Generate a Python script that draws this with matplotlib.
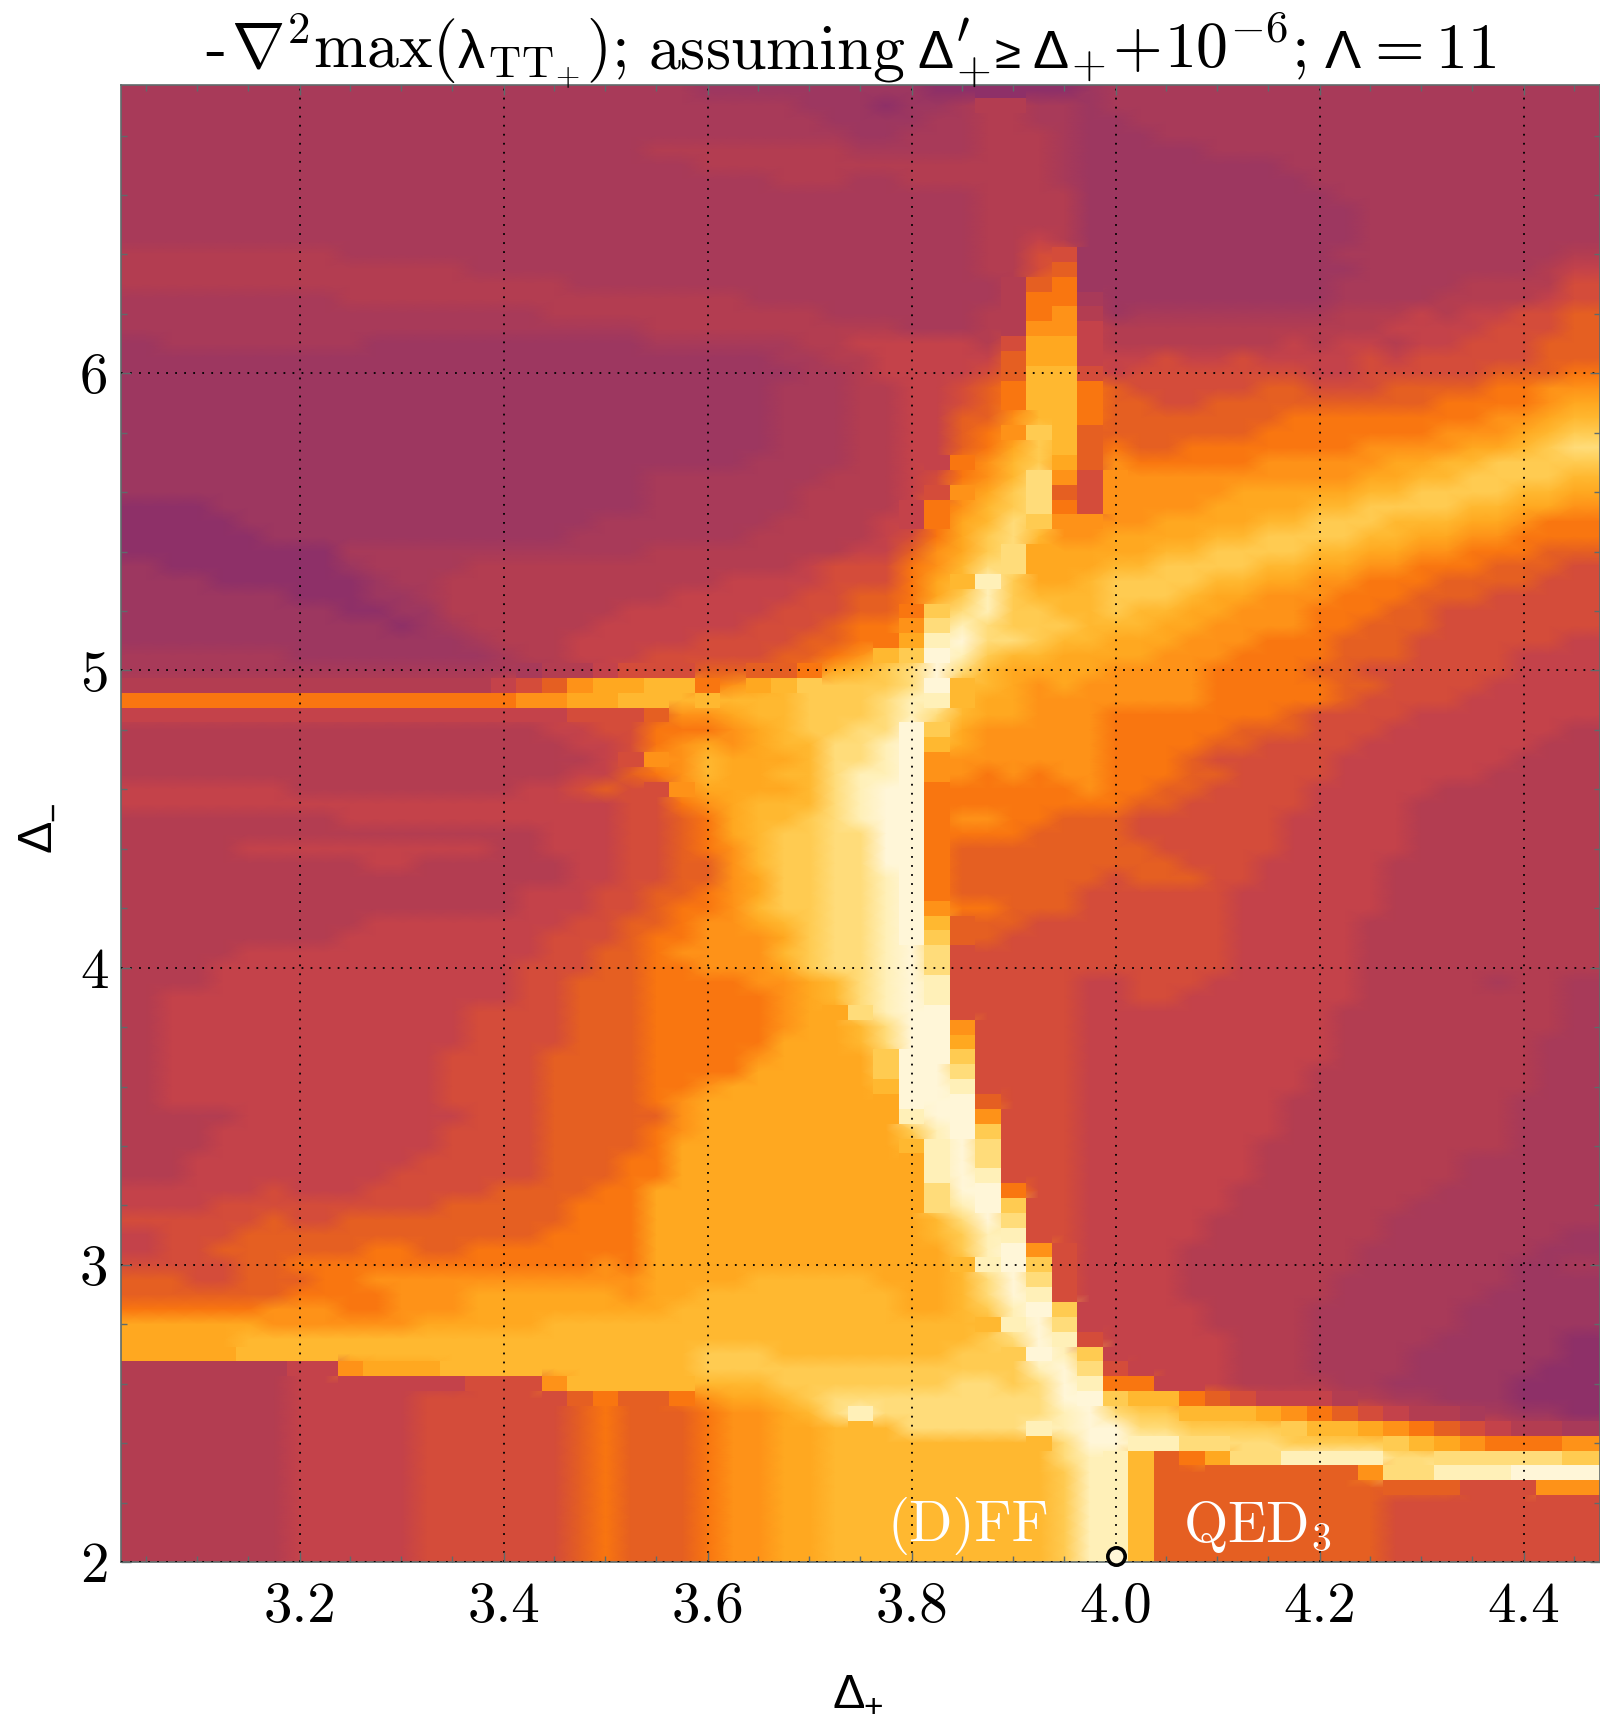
import numpy as np
import matplotlib
matplotlib.use("Agg")
import matplotlib.pyplot as plt
from matplotlib.colors import LinearSegmentedColormap

plt.rcParams['mathtext.fontset'] = 'cm'

x_ticks = [3.2, 3.4, 3.6, 3.8, 4.0, 4.2, 4.4]
x_tick_labels = ['3.2', '3.4', '3.6', '3.8', '4.0', '4.2', '4.4']
y_ticks = [2, 3, 4, 5, 6]
y_tick_labels = ['2', '3', '4', '5', '6']
level_colors = ['#8e3068', '#9d3760', '#a83a59', '#b33d51', '#c4424a', '#d44c3a', '#e55f22',
                '#f97510', '#fe9218', '#ffa820', '#ffb830', '#ffca50', '#ffdc78', '#fff0b8', '#fff6d8']

# levels (hex digit) by row, top row Delta_- = 6.95 down to 2.00 in steps of 0.05;
# each row runs over Delta_+ = 3.05 ... 4.45 in steps of 0.025
level_rows = """
222222 22222222 22222222 11111111 10000001 22222222 22222222 222
222222 22222222 22222222 22221110 11233221 22222222 22222222 222
222222 22222222 22222222 22222111 12233221 12222222 22222222 222
222222 22222222 22222222 22222211 22233321 11222222 22222222 222
222222 22222222 22222233 33333322 22233321 11112222 22222222 222
222222 22222222 22222222 33333333 33333321 11111112 22222222 222
222222 22222222 22222222 22233322 33333321 11111111 22222222 222
222222 22222222 22222222 22222222 22233331 11111111 12222222 222
222222 22222222 22222222 22222222 22233331 11111111 11222222 222
222222 22222222 22222222 22222222 22233331 11111111 11222222 222
222222 22222222 22222222 22222222 22233431 11111111 11222222 222
333333 33222222 22222222 22222222 22233551 11111111 12222222 223
333333 33333332 22222222 22222222 22233561 11111111 11222222 234
333333 33333333 33322222 22222222 22223671 11111111 12222233 335
222222 22333333 33333333 33222222 22223772 11111111 12222333 345
222222 22222222 22333333 33333222 22233783 12222222 23334344 556
222222 22222222 22222233 33333333 22233884 33333333 33344445 556
122222 22211111 11111122 22223344 44435994 33333334 34434455 566
111111 11111111 11111111 11122334 44446994 44544544 44545555 566
111111 11111111 11111111 11112234 44456aa5 45555555 44555556 667
111111 11111111 11111111 11122233 44567aa7 65555566 55566667 788
111111 11111111 11111111 11122233 44567aa7 66556666 66666777 789
111111 11111111 11111111 11122233 44668aa7 66666667 77777778 89a
111111 11111111 11111111 11122233 44678ba6 66666677 77777888 9ab
111111 11111111 11111111 11122233 44679ba6 76677777 77888899 abc
111111 11111111 11111111 11222233 4478ab96 87777788 88899aab bbb
111111 11111111 11111122 22222333 4578ac85 88888888 8899aabb bba
111111 11111111 11111122 22223333 4589bc65 88888999 99aabbbb aa9
000111 11111111 11111122 22223333 478abc75 88889999 aabbbbaa 998
000011 11111111 11112222 22233334 479acb88 889999aa bbbaaa99 877
000001 11111111 11122222 22333334 579bca88 9999aabb bbaa9988 777
000000 00222222 22222233 33333344 689bc999 99aabbbb aa998877 766
100000 00122223 33333333 33334555 78acc999 aabbbbaa 99887776 665
111000 00012233 33333333 34444555 79adb99a bbbbaa99 88777666 655
111111 00011233 33333334 44445566 79bdbaaa bbba9988 87776665 555
111111 11001133 33333444 44455566 7bcdbbaa baa99888 77766555 555
111111 11110123 33334444 44555677 8cdcbbba aa998888 77666555 555
111111 11111112 33344444 55556677 9deccbaa 99988877 76665555 554
222222 11111111 23344455 5556678a bedbaa99 99888777 76665555 444
222222 22222222 22334555 666679ab ceca9999 88887777 66555555 444
333333 33333333 456899aa 789abbbb ceaa9898 88887777 76655554 444
777777 77777777 78899aaa aaaabbbc dda99888 88887777 76555544 444
444444 44444444 44455568 89aabbbc dca99888 77777776 55554444 444
333333 33333333 33445577 789abbcc eb988888 77777666 55544444 443
333333 33333333 33344578 989aaccd ea988888 77776655 55444444 433
333333 33333333 33334588 a999accd e8888888 77765555 54444444 333
333333 33333333 33344678 a99aacdd e8878788 77766555 54444443 333
444444 33333333 34456558 9999acde e7777778 77665555 44444333 333
444444 44444444 44444557 89aaacde e7777777 76655555 44443333 333
333333 33444444 44444556 79aabcde e7887766 65555554 44443333 333
333333 33333333 33444556 79abbcce e7777666 65555554 44443333 333
333344 44444444 33444556 78abbcce e7666666 66555554 44443333 333
333333 33344333 33344556 68abbcce e7666666 66655544 44433333 333
333333 33333333 33344556 689bbccd e7666666 56665544 44433333 333
333333 33333333 34445566 789bbccd e7666665 55555444 44433333 333
333333 33333333 34445567 78abbccd e8776665 55555444 44433333 333
333333 33344444 44455667 889abccd ea666555 55555444 44333333 333
333333 33444444 44555677 8889bccd eb665555 55555444 44333333 333
333344 44444444 44556678 888abccd ec555555 55555444 44333333 333
333444 44444444 45556677 8889bccd ec555555 55555444 44333333 333
333444 44444444 45566677 77889acd ed555554 45554444 44333332 332
344444 44444444 45566677 77789acd ed555554 45544444 44333333 332
344444 44444445 55566677 777899cd ee555554 44444444 43333333 332
344444 44444445 55566677 777899ac ee855554 44444444 43333333 332
344444 44444445 55566677 777999ac ee955554 44444444 43333333 322
344444 44444455 55666677 7789999b eeb55554 44444444 43333333 322
344444 44444455 55666677 7799999b eec55554 44444444 33333333 322
344444 44444455 55666677 8999999a eed55554 44444444 33333333 322
344444 44444455 55666678 99999999 eee65554 44444443 33333333 222
333344 44444445 55666668 99999999 dee85554 44444443 33333333 222
333444 44444455 55666678 99999999 bdeb5554 44444443 33333333 222
333444 44444455 55666679 99999999 adec5554 44444433 33333333 222
334444 44444555 55666779 99999999 9dec5554 44444433 33333322 222
334444 44445555 55666779 99999999 9ded5554 44444433 33333322 222
444445 44455555 66667799 99999999 9cee7554 44444333 33333222 222
444555 55555566 66677799 99999999 9cdeb554 44444333 33332222 222
555556 55666666 66677799 99999999 9acec554 44443333 33322222 222
455566 66666666 66777799 99999999 9abdd554 44443333 33322222 221
455666 66677667 77777799 99999999 99bde854 44433333 33222222 211
555566 77777777 77778799 99999999 99adeb54 44433333 33222222 112
665566 67788888 88888899 99aaaaa9 99acec54 44433333 32222222 111
666666 77778889 99999899 aaaaaaaa 99aced54 44433333 32222221 111
777778 88778889 9999999a aaaaaaaa 99abdeb4 44443333 22222211 111
999998 88888999 99aaaaaa aaaaaaaa aaaadec4 44443333 22222211 111
9999aa aaaaaaaa aaaaaaaa aaaaaaaa aaabced5 44444333 22222111 110
9999aa aaaaaaaa aaaaaaaa bbbaaaaa aabbbedb 44444333 22221111 110
333333 448999aa aaaaaaaa bbbbbbbb bbbbbdec 54444333 22221111 100
333333 44444445 558aaaaa aaabbbbb bbccbced 77444333 32211111 000
333333 44444555 55567667 899abccc ccccccee baa76544 43322111 000
333333 44444555 55567666 7889acdc ccccccde cbbaaa98 76543322 110
333333 44444555 55567666 78899aaa cccccdde eccbbbbb aa987654 332
333333 44444555 55567666 78899aaa aaaaaace eddccccb bbbba987 778
333333 44444555 55567666 78899aaa aaaaaacd da679ccd dddccccc ccb
333333 44444555 55567666 78899aaa aaaaaabd da666666 668ccddd eee
333333 44444555 55567666 78899aaa aaaaaabd da666666 66666655 588
333333 44444555 55567666 78899aaa aaaaaabd da666666 66655555 555
333333 44444555 55567666 78899aaa aaaaaabd da666666 66655555 555
333333 44444555 55567666 78899aaa aaaaaabd da666666 66655555 555
333333 44444555 55567666 78899aaa aaaaaabd da666666 66655555 555
333333 44444555 55567666 78899aaa aaaaaabd da666666 66655555 555
"""

rows = [r.replace(' ', '') for r in level_rows.strip().splitlines()]
Z = np.array([[int(c, 16) for c in r[:57].ljust(57, r[-1])] for r in rows], float)

nx, ny = Z.shape[1], Z.shape[0]
xc = 3.05 + 0.025 * np.arange(nx)
yc = 6.95 - 0.05 * np.arange(ny)
xe = np.r_[3.025, (xc[:-1] + xc[1:]) / 2, 4.475]
ye = np.r_[6.975, (yc[:-1] + yc[1:]) / 2, 1.975]

W, H = 1600, 1727
fig = plt.figure(figsize=(W / 100, H / 100), dpi=100)
ax = fig.add_axes([121 / W, 1 - 1562 / H, (1600 - 121) / W, (1562 - 85) / H])
cmap = LinearSegmentedColormap.from_list('heat', level_colors, N=256)

# gentle gradients are shaded smoothly, cells beside a steep jump stay as flat blocks
xs = np.r_[3.025, xc, 4.475]
ys = np.r_[6.975, yc, 1.975]
Zs = np.pad(Z, 1, mode='edge')
ax.pcolormesh(xs, ys, Zs, cmap=cmap, vmin=0, vmax=14, shading='gouraud', rasterized=True)
jump = np.zeros_like(Z, dtype=bool)
dx = np.abs(np.diff(Z, axis=1)) >= 3
dy = np.abs(np.diff(Z, axis=0)) >= 3
jump[:, :-1] |= dx
jump[:, 1:] |= dx
jump[:-1, :] |= dy
jump[1:, :] |= dy
ax.pcolormesh(xe, ye, np.ma.masked_where(~jump, Z), cmap=cmap, vmin=0, vmax=14,
              shading='flat', linewidth=0, antialiased=False, rasterized=True)
ax.set_xlim(3.025, 4.475)
ax.set_ylim(2.0, 6.97)

ax.set_xticks(x_ticks)
ax.set_xticklabels(x_tick_labels, fontfamily='cmr10', fontsize=41)
ax.set_yticks(y_ticks)
ax.set_yticklabels(y_tick_labels, fontfamily='cmr10', fontsize=41)
ax.set_xticks(np.arange(3.05, 4.46, 0.05), minor=True)
ax.set_yticks(np.arange(2.2, 6.97, 0.2), minor=True)
fc = '#5f6b6b'
ax.tick_params(which='major', direction='in', length=7, width=1, color=fc, top=True, right=True, pad=14)
ax.tick_params(which='minor', direction='in', length=4, width=1, color=fc, top=True, right=True)
ax.tick_params(axis='y', which='major', pad=9)
for s in ax.spines.values():
    s.set_color(fc)
    s.set_linewidth(1.2)
ax.grid(True, which='major', color='black', linestyle=(0, (1, 4)), linewidth=1.3)
ax.set_axisbelow(False)

ax.plot([4.0], [2.02], 'o', mfc='#fff6d8', mec='black', mew=2.6, ms=12.5, clip_on=False, zorder=6)
ax.text(3.776, 2.025, '(D)FF', color='white', fontfamily='cmr10', fontsize=41, ha='left', va='bottom')
ax.text(4.066, 2.025, r'$\mathrm{QED}_{3}$', color='white', fontsize=41, ha='left', va='bottom', zorder=5)

renderer = fig.canvas.get_renderer()
def chain(x, y, parts):
    """Lay text pieces along the baseline, starting at pixel x, baseline pixel y."""
    for s, fam, size, gap in parts:
        t = fig.text(x / W, 1 - y / H, s, fontsize=size, family=fam, ha='left', va='baseline')
        x += t.get_window_extent(renderer).width + gap
    return x

SANS = 'Liberation Sans'
CM = 'DejaVu Sans'
chain(205, 68, [
    ('-', 'cmr10', 46, 5),
    (r'$\nabla^{2}\mathrm{max}($', CM, 46, 2),
    ('λ', SANS, 39, 1),
    (r'${}_{\mathrm{TT}_{+}})\mathrm{;}$', CM, 46, 22),
    (r'$\mathrm{assuming}$', CM, 46, 12),
    ('Δ', SANS, 39, 1),
    (r"${}_{+}^{\prime}$", CM, 46, 3),
    ('≥', SANS, 34, 12),
    ('Δ', SANS, 39, 1),
    (r'${}_{+}\!+\!10^{-6}\mathrm{;}$', CM, 46, 18),
    ('Λ', SANS, 39, 2),
    (r'$\mathrm{=11}$', CM, 46, 0),
])
fig.text(833 / W, 1 - 1708 / H, 'Δ', fontsize=35, family=SANS, ha='left', va='baseline')
fig.text(873 / W, 1 - 1709 / H, '+', fontsize=24, family=SANS, ha='center', va='center')
fig.text(38 / W, 1 - 836 / H, 'Δ', fontsize=35, family=SANS, rotation=90, ha='center', va='center')
fig.text(55 / W, 1 - 811 / H, '\u2212', fontsize=24, family=SANS, rotation=90, ha='center', va='center')

fig.savefig('out.png', dpi=100)
